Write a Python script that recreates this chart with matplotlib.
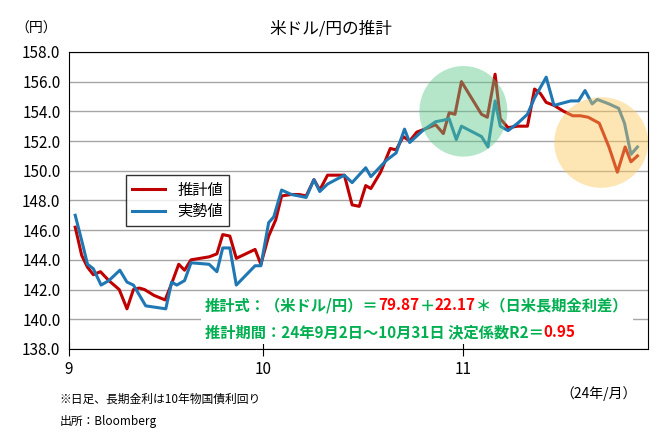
import matplotlib
matplotlib.use("Agg")
import matplotlib.pyplot as plt
from matplotlib.patches import Ellipse
from matplotlib.offsetbox import TextArea, HPacker, VPacker, AnchoredOffsetbox

plt.rcParams["font.family"] = "Noto Sans CJK JP"

# x = days since Sep 1 (Oct 1 = 30, Nov 1 = 61)
est_days = [1.0, 2.0, 2.9, 3.8, 4.9, 6.2, 7.8, 9.0, 10.0, 10.9, 11.7, 13.2, 14.9, 15.9, 17.0, 17.9,
            18.9, 21.7, 22.9, 23.8, 24.9, 25.9, 28.8, 29.7, 30.9, 32.0, 32.9, 34.4, 35.6, 36.7,
            37.9, 38.8, 40.0, 42.6, 43.8, 44.9, 45.9, 46.7, 48.2, 49.7, 50.6, 51.7, 52.7, 53.8,
            55.6, 56.7, 57.9, 58.8, 59.7, 60.7, 63.8, 64.7, 65.9, 66.7, 67.9, 69.4, 70.9, 72.0,
            72.9, 73.8, 75.0, 76.5, 77.9, 79.1, 80.3, 82.0, 83.5, 84.8, 86.0, 86.9, 87.9]
est_vals = [146.2, 144.3, 143.5, 143.0, 143.2, 142.6, 142.0, 140.7, 142.0, 142.1, 142.0, 141.6,
            141.3, 142.4, 143.7, 143.3, 144.0, 144.2, 144.4, 145.7, 145.6, 144.1, 144.7, 143.7,
            145.6, 146.7, 148.3, 148.4, 148.4, 148.3, 149.4, 148.7, 149.7, 149.7, 147.7, 147.6,
            149.0, 148.8, 149.9, 151.5, 151.4, 152.3, 152.0, 152.6, 152.9, 153.1, 152.5, 153.9,
            153.8, 156.0, 153.8, 153.6, 156.5, 153.5, 152.9, 153.0, 153.0, 155.5, 155.2, 154.6,
            154.4, 154.0, 153.7, 153.7, 153.6, 153.2, 151.6, 149.9, 151.6, 150.6, 151.0]

act_days = [1.0, 2.0, 2.9, 3.8, 5.0, 6.2, 7.9, 9.0, 10.0, 11.9, 15.0, 15.9, 16.7, 17.9, 18.9,
            21.7, 22.9, 23.8, 24.9, 25.9, 28.8, 29.7, 30.9, 31.7, 32.9, 34.4, 36.7, 37.9, 38.8,
            40.0, 42.6, 43.8, 45.9, 46.7, 49.1, 50.6, 51.9, 52.7, 54.7, 56.7, 57.9, 58.8, 59.9,
            60.7, 63.8, 64.8, 65.9, 66.7, 67.9, 69.4, 70.9, 72.0, 73.8, 75.0, 77.6, 78.8, 79.8,
            80.9, 81.7, 83.5, 85.0, 85.9, 86.9, 87.9]
act_vals = [147.0, 145.3, 143.7, 143.4, 142.3, 142.6, 143.3, 142.5, 142.3, 140.9, 140.7, 142.5,
            142.3, 142.6, 143.8, 143.7, 143.2, 144.8, 144.8, 142.3, 143.6, 143.6, 146.5, 146.9,
            148.7, 148.4, 148.2, 149.4, 148.6, 149.1, 149.7, 149.2, 150.2, 149.6, 150.7, 151.2,
            152.8, 151.9, 152.7, 153.3, 153.4, 153.5, 152.1, 153.0, 152.3, 151.6, 154.7, 153.0,
            152.7, 153.2, 153.8, 154.9, 156.3, 154.4, 154.7, 154.7, 155.4, 154.5, 154.8, 154.5,
            154.2, 153.2, 151.1, 151.6]

month_ticks = [0, 30, 61]
month_labels = ["9", "10", "11"]
y_ticks = [138 + 2 * i for i in range(11)]

fig = plt.figure(figsize=(6.61, 4.40), dpi=100)
ax = fig.add_axes([0.104, 0.207, 0.876, 0.675])

for y in y_ticks:
    ax.axhline(y, color="#a6a6a6", lw=1, zorder=0)
ax.plot(est_days, est_vals, color="#c00000", lw=2.2, label="推計値", zorder=2)
ax.plot(act_days, act_vals, color="#1f77b4", lw=2.2, label="実勢値", zorder=2)

ax.add_patch(Ellipse((61, 154.0), 13.6, 6.1, color="#5cc98a", alpha=0.45, lw=0, zorder=3))
ax.add_patch(Ellipse((82.3, 151.9), 14.5, 6.1, color="#fbc65a", alpha=0.45, lw=0, zorder=3))

ax.set_xlim(0, 89.5)
ax.set_ylim(138, 158)
ax.set_yticks(y_ticks)
ax.set_yticklabels([f"{v:.1f}" for v in y_ticks], fontsize=11)
ax.set_xticks(month_ticks)
ax.set_xticklabels(month_labels, fontsize=11)
ax.tick_params(axis="y", length=0, pad=6)
ax.tick_params(axis="x", direction="inout", length=10, pad=4)
for s in ax.spines.values():
    s.set_color("black")

leg = ax.legend(loc="upper left", bbox_to_anchor=(0.085, 0.61), fontsize=11, frameon=True,
                fancybox=False, edgecolor="black", handlelength=2.2, borderpad=0.4,
                labelspacing=0.3)
leg.get_frame().set_linewidth(1)

green = "#00b050"
red = "#ff0000"
tp = dict(fontsize=11, fontweight="bold")
line1 = HPacker(children=[
    TextArea("推計式：（米ドル/円）＝", textprops=dict(color=green, **tp)),
    TextArea("79.87", textprops=dict(color=red, **tp)),
    TextArea("＋", textprops=dict(color=green, **tp)),
    TextArea("22.17", textprops=dict(color=red, **tp)),
    TextArea("＊（日米長期金利差）", textprops=dict(color=green, **tp)),
], pad=0, sep=0)
line2 = HPacker(children=[
    TextArea("推計期間：24年9月2日～10月31日 決定係数R2＝", textprops=dict(color=green, **tp)),
    TextArea("0.95", textprops=dict(color=red, **tp)),
], pad=0, sep=0)
box = VPacker(children=[line1, line2], pad=0, sep=8)
ab = AnchoredOffsetbox(loc="lower left", child=box, pad=0.3, frameon=True,
                       bbox_to_anchor=(0.228, 0.015), bbox_transform=ax.transAxes, borderpad=0)
ab.patch.set_facecolor("white")
ab.patch.set_edgecolor("none")
ab.zorder = 4
ax.add_artist(ab)

fig.text(0.5, 0.935, "米ドル/円の推計", ha="center", va="center", fontsize=12)
fig.text(0.055, 0.935, "（円）", ha="center", va="center", fontsize=10)
fig.text(0.905, 0.105, "（24年/月）", ha="center", va="center", fontsize=10)
fig.text(0.09, 0.093, "※日足、長期金利は10年物国債利回り", ha="left", va="center", fontsize=8.5)
fig.text(0.09, 0.043, "出所：Bloomberg", ha="left", va="center", fontsize=8.5)

fig.savefig("out.png", dpi=100)
